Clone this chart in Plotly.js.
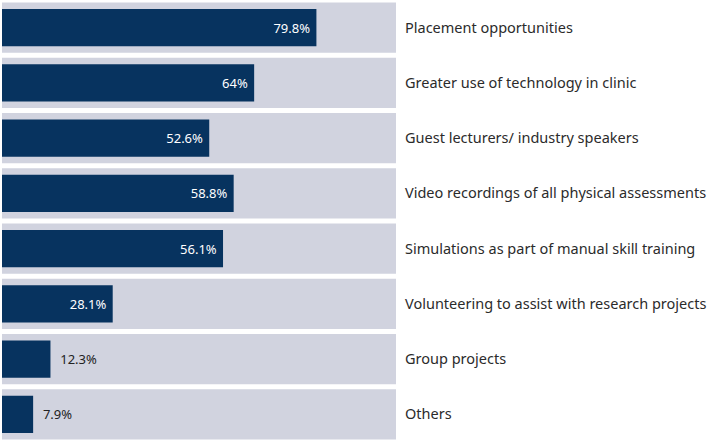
<!DOCTYPE html>
<html>
<head>
<meta charset="utf-8">
<script src="https://cdn.plot.ly/plotly-3.0.1.min.js"></script>
<style>html,body{margin:0;padding:0;background:#fff;}#chart{width:709px;height:442px;}</style>
</head>
<body>
<div id="chart"></div>
<script>
const categories = [
  "Placement opportunities",
  "Greater use of technology in clinic",
  "Guest lecturers/ industry speakers",
  "Video recordings of all physical assessments",
  "Simulations as part of manual skill training",
  "Volunteering to assist with research projects",
  "Group projects",
  "Others"
];
const values = [79.8, 64, 52.6, 58.8, 56.1, 28.1, 12.3, 7.9];
const fullScale = [100, 100, 100, 100, 100, 100, 100, 100];
const labelPositions = ["inside","inside","inside","inside","inside","inside","outside","outside"];

const NB = "\u00a0";
const templates = labelPositions.map(p => p === "inside" ? "%{x}%" + NB : NB + NB + "%{x}%");

const bg = {
  type: "bar", orientation: "h",
  x: fullScale, y: categories,
  width: 0.905,
  marker: {color: "#d1d3df"},
  hoverinfo: "skip", showlegend: false
};
const fg = {
  type: "bar", orientation: "h",
  x: values, y: categories,
  width: 0.67,
  marker: {color: "#07335f"},
  texttemplate: templates,
  textposition: labelPositions,
  insidetextanchor: "end",
  insidetextfont: {color: "#ffffff", size: 13, family: "'Noto Sans', sans-serif"},
  outsidetextfont: {color: "#222222", size: 13, family: "'Noto Sans', sans-serif"},
  cliponaxis: false,
  hoverinfo: "skip", showlegend: false
};
const layout = {
  width: 709, height: 442,
  margin: {l: 2, r: 313, t: 0, b: 0},
  paper_bgcolor: "#ffffff", plot_bgcolor: "#ffffff",
  barmode: "overlay",
  xaxis: {range: [0, 100], visible: false, fixedrange: true},
  yaxis: {
    autorange: "reversed", side: "right", automargin: false,
    showgrid: false, zeroline: false, showline: false, ticks: "",
    ticklabelstandoff: 8,
    tickfont: {family: "'Noto Sans', sans-serif", size: 14.5, color: "#2b2b2b"}
  },
  font: {family: "'Noto Sans', sans-serif"}
};
Plotly.newPlot("chart", [bg, fg], layout, {displayModeBar: false, staticPlot: true});
</script>
</body>
</html>
